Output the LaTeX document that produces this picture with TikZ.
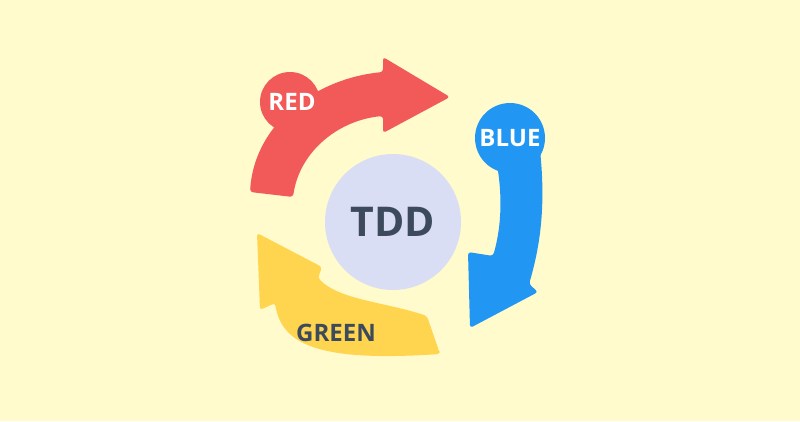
\documentclass[tikz,border=0pt]{standalone}
\usepackage{fontspec}
\setmainfont{Open Sans}
\definecolor{bg}{HTML}{FFFBCC}
\definecolor{cred}{HTML}{F25A5A}
\definecolor{cblue}{HTML}{2196F3}
\definecolor{cyel}{HTML}{FFD54F}
\definecolor{ccore}{HTML}{D9DEF5}
\definecolor{ctext}{HTML}{3D4A5C}
\tikzset{band/.style={line join=round,rounded corners=3pt},
  lbl/.style={font=\bfseries\fontsize{24}{24}\selectfont}}
\begin{document}
\begin{tikzpicture}[x=1pt,y=-1pt]
\fill[bg] (0,0) rectangle (800,421);
\useasboundingbox (0,0) rectangle (800,421);
% red
\fill[cred,band] (250,192) .. controls (255,120) and (320,78) .. (383,72) -- (383,57) -- (450,97) -- (383,133) -- (383,116) .. controls (340,120) and (300,150) .. (293,197) -- cycle;
\fill[cred] (290,102) circle (30);
\node[lbl,text=white] (red) at (292,102) {RED};
% blue
\fill[cblue,band] (494,150) .. controls (503,190) and (502,225) .. (493,256) -- (468,252) -- (470,328) -- (538,292) -- (529,284) .. controls (542,240) and (545,200) .. (540,150) -- cycle;
\fill[cblue] (510,138) circle (35);
\node[lbl,text=white] (blue) at (510,138) {BLUE};
% yellow
\fill[cyel,band] (440,354) -- (427,316) .. controls (385,302) and (340,300) .. (318,278) -- (322,267) -- (257,233) -- (260,310) -- (275,303) .. controls (282,345) and (320,362) .. cycle;
\node[lbl,text=ctext] (green) at (336,333) {GREEN};
% core
\fill[ccore] (393,222) circle (68);
\node[text=ctext,font=\bfseries\fontsize{41}{41}\selectfont] (tdd) at (393,222) {TDD};
\end{tikzpicture}
\end{document}
